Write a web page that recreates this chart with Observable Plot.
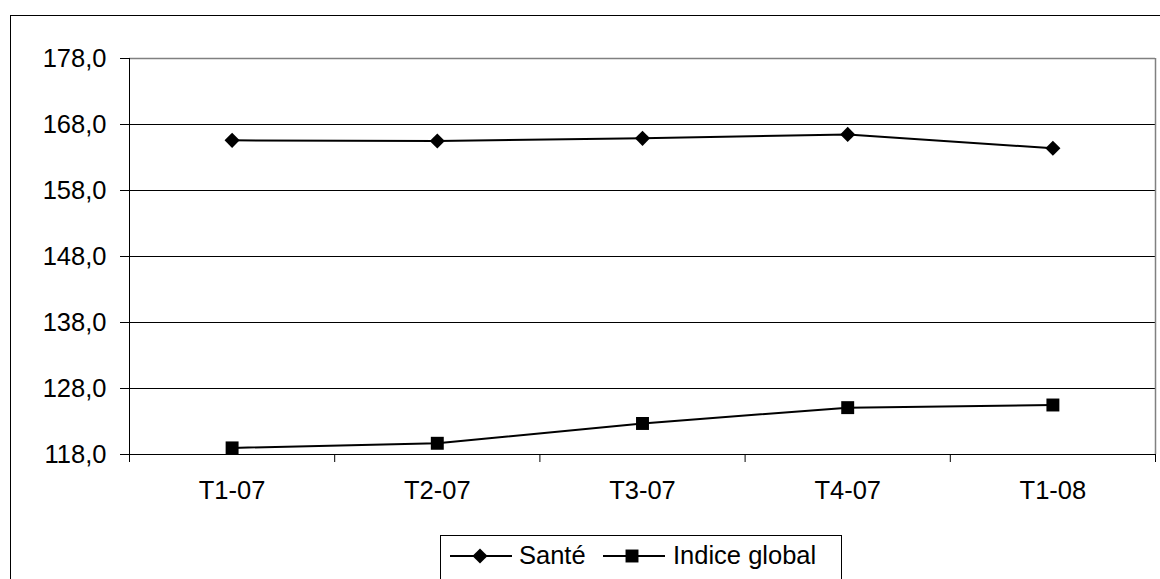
<!DOCTYPE html>
<html><head><meta charset="utf-8">
<script src="https://cdn.jsdelivr.net/npm/d3@7"></script>
<script src="https://cdn.jsdelivr.net/npm/@observablehq/plot@0.6"></script>
<style>
body{margin:0;background:#fff;}
#wrap{position:relative;width:1160px;height:579px;overflow:hidden;font-family:"Liberation Sans",Arial,sans-serif;background:#fff;}
#chart{position:absolute;left:0;top:0;}
#frame{position:absolute;left:10px;top:15px;width:1300px;height:800px;border:1px solid #000;pointer-events:none;}
#legend{position:absolute;left:440px;top:535px;width:400px;height:44px;border:1px solid #000;border-bottom:none;background:#fff;}
#legend svg{position:absolute;left:0;top:0;}
</style></head><body>
<div id="wrap"><div id="chart"></div><div id="frame"></div><div id="legend"></div></div>
<script>
const quarters = ["T1-07","T2-07","T3-07","T4-07","T1-08"];
const sante = [165.6,165.5,165.9,166.5,164.4];
const indiceGlobal = [119.0,119.7,122.7,125.1,125.5];
const yTicks = [118,128,138,148,158,168,178];
const seriesNames = ["Santé","Indice global"];
const symbols = ["diamond2","square"];

const W = 1160, H = 579, mL = 129, mT = 58, mR = 5, mB = 125;
const step = (W - mL - mR) / quarters.length;
const fmt = d => d.toFixed(1).replace(".", ",");
const data = quarters.flatMap((q, i) => [
  {q, v: sante[i], s: seriesNames[0]},
  {q, v: indiceGlobal[i], s: seriesNames[1]}
]);

const chart = Plot.plot({
  width: W, height: H,
  marginLeft: mL, marginTop: mT, marginRight: mR, marginBottom: mB,
  style: {fontFamily: '"Liberation Sans", Arial, sans-serif', fontSize: "25.5px", color: "#000", background: "transparent", overflow: "visible"},
  x: {type: "point", domain: quarters, padding: 0.5, round: false, label: null},
  y: {domain: [118, 178], label: null},
  marks: [
    Plot.ruleY(yTicks.slice(1, -1), {stroke: "#000", strokeWidth: 1}),
    Plot.ruleY([yTicks[yTicks.length - 1]], {stroke: "#808080", strokeWidth: 1.5}),
    Plot.ruleX([quarters[quarters.length - 1]], {dx: step / 2, stroke: "#808080", strokeWidth: 1.5}),
    Plot.ruleX([quarters[0]], {dx: -step / 2, stroke: "#000"}),
    Plot.ruleY([yTicks[0]], {stroke: "#000"}),
    Plot.axisY(yTicks, {tickSize: 9, tickPadding: 14, tickFormat: fmt, stroke: "#000", fill: "#000", label: null}),
    Plot.axisX(quarters, {tickSize: 8, tickFormat: () => "", dx: -step / 2, stroke: "#000", label: null}),
    Plot.axisX([quarters[quarters.length - 1]], {tickSize: 8, tickFormat: () => "", dx: step / 2, stroke: "#000", label: null}),
    Plot.axisX(quarters, {tickSize: 0, tickPadding: 26, tickFormat: d => d, fill: "#000", label: null}),
    Plot.line(data, {x: "q", y: "v", z: "s", stroke: "#000", strokeWidth: 2}),
    Plot.dot(data.filter(d => d.s === seriesNames[0]), {x: "q", y: "v", symbol: symbols[0], r: 6.8, fill: "#000", stroke: "none"}),
    Plot.dot(data.filter(d => d.s === seriesNames[1]), {x: "q", y: "v", symbol: symbols[1], r: 7.3, fill: "#000", stroke: "none"})
  ]
});
document.getElementById("chart").appendChild(chart);

// Legend
const lg = d3.select("#legend").append("svg").attr("width", 400).attr("height", 44);
const items = [
  {name: seriesNames[0], sym: d3.symbolDiamond2, size: (6.8*6.8*Math.PI), x0: 9, x1: 71, cx: 39, tx: 78},
  {name: seriesNames[1], sym: d3.symbolSquare, size: (7.3*7.3*Math.PI), x0: 162, x1: 224, cx: 191, tx: 232}
];
items.forEach(it => {
  lg.append("line").attr("x1", it.x0).attr("x2", it.x1).attr("y1", 20).attr("y2", 20).attr("stroke", "#000").attr("stroke-width", 2);
  lg.append("path").attr("d", d3.symbol(it.sym, it.size)()).attr("transform", `translate(${it.cx},20)`).attr("fill", "#000");
  lg.append("text").attr("x", it.tx).attr("y", 28).attr("font-size", 25.5).attr("font-family", '"Liberation Sans", Arial, sans-serif').attr("fill", "#000").text(it.name);
});
</script>
</body></html>
